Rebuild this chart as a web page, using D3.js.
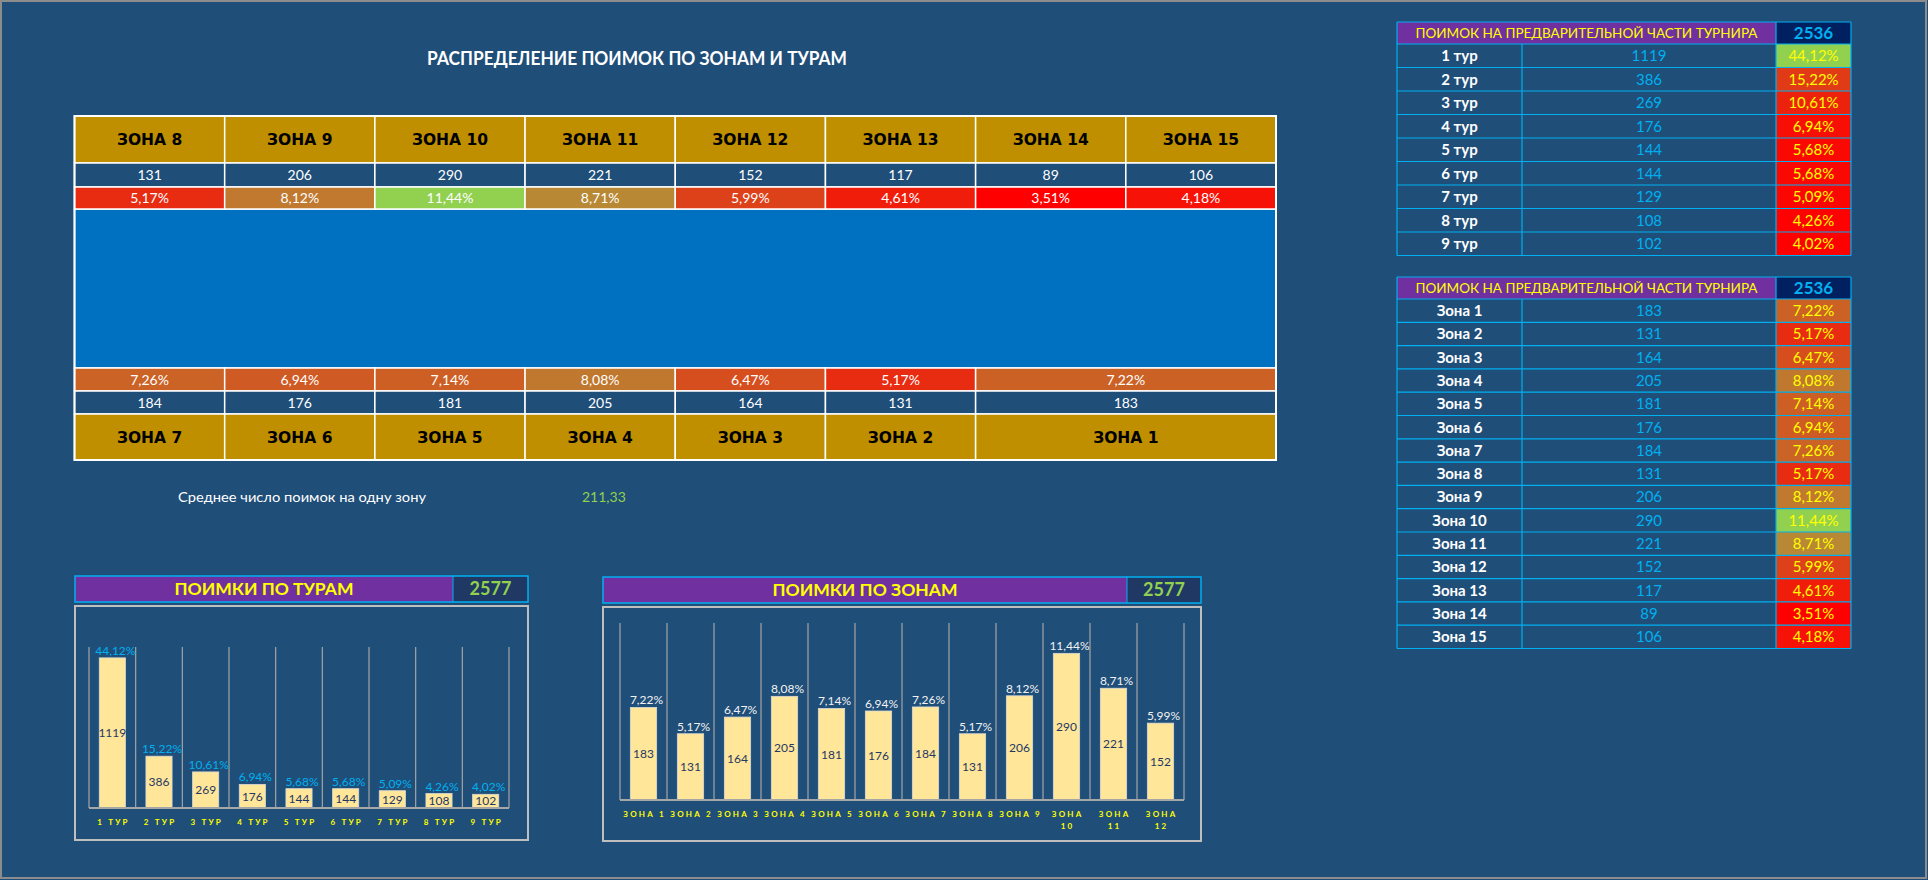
<!DOCTYPE html>
<html>
<head>
<meta charset="utf-8">
<script src="https://cdn.jsdelivr.net/npm/d3@7"></script>
<style>
  html, body { margin: 0; padding: 0; background: #1F4E79; }
  svg { display: block; }
  text { font-family: Lato, "Open Sans", sans-serif; }
</style>
</head>
<body>
<div id="sheet"></div>
<script>
// ---- data ----
const zoneNames = ['Зона 1','Зона 2','Зона 3','Зона 4','Зона 5','Зона 6','Зона 7','Зона 8',
                   'Зона 9','Зона 10','Зона 11','Зона 12','Зона 13','Зона 14','Зона 15'];
const zoneCatches = [183, 131, 164, 205, 181, 176, 184, 131, 206, 290, 221, 152, 117, 89, 106];
const zonePct = [7.22, 5.17, 6.47, 8.08, 7.14, 6.94, 7.26, 5.17, 8.12, 11.44, 8.71, 5.99, 4.61, 3.51, 4.18];

const tourNames = ['1 тур','2 тур','3 тур','4 тур','5 тур','6 тур','7 тур','8 тур','9 тур'];
const tourCatches = [1119, 386, 269, 176, 144, 144, 129, 108, 102];
const tourPct = [44.12, 15.22, 10.61, 6.94, 5.68, 5.68, 5.09, 4.26, 4.02];

// layout of the pond map: upper row zones 8..15, lower row 7..1 (zone 1 is wider)
const upperZones = [8, 9, 10, 11, 12, 13, 14, 15];
const lowerZones = [7, 6, 5, 4, 3, 2, 1];
const lowerSpans = [1, 1, 1, 1, 1, 1, 2];

const prelimTotal = 2536;
const chartTotal = 2577;
const avgPerZone = '211,33';
const chartZones = 12;   // the zone chart shows zones 1..12

const W = 1928, H = 880;
const fmtPct = v => d3.format('.2f')(v).replace('.', ',') + '%';

const zoneColor = d3.scaleLinear()
    .domain(d3.extent(zonePct))
    .range(['#FF0000', '#92D050']);
const tourColor = d3.scaleLinear()
    .domain(d3.extent(tourPct))
    .range(['#FF0000', '#92D050']);

const svg = d3.select('#sheet').append('svg')
    .attr('width', W)
    .attr('height', H);

svg.append('rect')
    .attr('x', 1).attr('y', 1)
    .attr('width', W - 3).attr('height', H - 3)
    .attr('fill', '#1F4E79')
    .attr('stroke', '#8C8C8C')
    .attr('stroke-width', 2);

// title
svg.append('text')
    .attr('x', 637).attr('y', 65)
    .attr('text-anchor', 'middle')
    .attr('fill', '#FFFFFF')
    .attr('font-weight', 700)
    .attr('font-size', 18)
    .attr('textLength', 420)
    .attr('lengthAdjust', 'spacingAndGlyphs')
    .text('РАСПРЕДЕЛЕНИЕ ПОИМОК ПО ЗОНАМ И ТУРАМ');

// ---------- pond map table ----------
const mapX = d3.scaleLinear().domain([0, 8]).range([74.5, 1276]);
const rows = {
    head1: [116, 163], val1: [163, 187], pct1: [187, 209],
    blue: [209, 368],
    pct2: [368, 391], val2: [391, 414], head2: [414, 460]
};
const map = svg.append('g').attr('class', 'pond-map');

function cellRow(cells, key, fill, label, opts) {
    const [y0, y1] = rows[key];
    const g = map.append('g').attr('class', key);
    g.selectAll('rect').data(cells).enter().append('rect')
        .attr('x', d => mapX(d.c0))
        .attr('y', y0)
        .attr('width', d => mapX(d.c0 + d.span) - mapX(d.c0))
        .attr('height', y1 - y0)
        .attr('fill', fill)
        .attr('stroke', '#FFFFFF')
        .attr('stroke-width', 1.5);
    g.selectAll('text').data(cells).enter().append('text')
        .attr('x', d => (mapX(d.c0) + mapX(d.c0 + d.span)) / 2)
        .attr('y', (y0 + y1) / 2)
        .attr('dy', '0.36em')
        .attr('text-anchor', 'middle')
        .attr('fill', opts.color)
        .attr('font-size', opts.size)
        .attr('font-weight', opts.weight || 400)
        .style('font-family', opts.family || null)
        .text(label);
}

const upperCells = upperZones.map((z, i) => ({ zone: z, c0: i, span: 1 }));
let acc = 0;
const lowerCells = lowerZones.map((z, i) => {
    const c = { zone: z, c0: acc, span: lowerSpans[i] };
    acc += lowerSpans[i];
    return c;
});

map.append('rect')
    .attr('x', mapX(0)).attr('y', rows.blue[0])
    .attr('width', mapX(8) - mapX(0))
    .attr('height', rows.blue[1] - rows.blue[0])
    .attr('fill', '#0070C0')
    .attr('stroke', '#FFFFFF')
    .attr('stroke-width', 1.5);

const headOpts = { color: '#000000', size: 15.5, weight: 700, family: '"DejaVu Sans", sans-serif' };
cellRow(upperCells, 'head1', '#BF8F00', d => 'ЗОНА ' + d.zone, headOpts);
cellRow(upperCells, 'val1', '#1F4E79', d => zoneCatches[d.zone - 1], { color: '#FFFFFF', size: 14 });
cellRow(upperCells, 'pct1', d => zoneColor(zonePct[d.zone - 1]), d => fmtPct(zonePct[d.zone - 1]), { color: '#FFFFFF', size: 14 });
cellRow(lowerCells, 'pct2', d => zoneColor(zonePct[d.zone - 1]), d => fmtPct(zonePct[d.zone - 1]), { color: '#FFFFFF', size: 14 });
cellRow(lowerCells, 'val2', '#1F4E79', d => zoneCatches[d.zone - 1], { color: '#FFFFFF', size: 14 });
cellRow(lowerCells, 'head2', '#BF8F00', d => 'ЗОНА ' + d.zone, headOpts);

map.append('rect')
    .attr('x', mapX(0)).attr('y', rows.head1[0])
    .attr('width', mapX(8) - mapX(0))
    .attr('height', rows.head2[1] - rows.head1[0])
    .attr('fill', 'none')
    .attr('stroke', '#FFFFFF')
    .attr('stroke-width', 2);

svg.append('text')
    .attr('x', 178).attr('y', 502)
    .attr('fill', '#FFFFFF')
    .attr('font-size', 14)
    .attr('textLength', 248)
    .attr('lengthAdjust', 'spacingAndGlyphs')
    .text('Среднее число поимок на одну зону');
svg.append('text')
    .attr('x', 582).attr('y', 502)
    .attr('fill', '#92D050')
    .attr('font-size', 14)
    .text(avgPerZone);

// ---------- side tables ----------
function sideTable(top, names, values, pcts, colorScale, rowH) {
    const cols = [1397, 1522, 1776, 1851];
    const headH = 22;
    const g = svg.append('g').attr('transform', 'translate(0,' + top + ')');
    g.append('rect')
        .attr('x', cols[0]).attr('y', 0)
        .attr('width', cols[2] - cols[0]).attr('height', headH)
        .attr('fill', '#7030A0');
    g.append('rect')
        .attr('x', cols[2]).attr('y', 0)
        .attr('width', cols[3] - cols[2]).attr('height', headH)
        .attr('fill', '#002060');
    g.append('text')
        .attr('x', (cols[0] + cols[2]) / 2).attr('y', headH / 2)
        .attr('dy', '0.36em')
        .attr('text-anchor', 'middle')
        .attr('fill', '#FFFF00')
        .attr('font-size', 14)
        .attr('textLength', 342)
        .attr('lengthAdjust', 'spacingAndGlyphs')
        .text('ПОИМОК НА ПРЕДВАРИТЕЛЬНОЙ ЧАСТИ ТУРНИРА');
    g.append('text')
        .attr('x', (cols[2] + cols[3]) / 2).attr('y', headH / 2)
        .attr('dy', '0.36em')
        .attr('text-anchor', 'middle')
        .attr('fill', '#00B0F0')
        .attr('font-size', 17)
        .attr('font-weight', 700)
        .text(prelimTotal);

    const y = d3.scaleBand().domain(d3.range(names.length))
        .range([headH, headH + rowH * names.length]);
    const row = g.selectAll('g.row').data(names).enter().append('g')
        .attr('class', 'row')
        .attr('transform', (d, i) => 'translate(0,' + y(i) + ')');
    row.append('rect')
        .attr('x', cols[2]).attr('width', cols[3] - cols[2])
        .attr('height', y.bandwidth())
        .attr('fill', (d, i) => colorScale(pcts[i]));
    row.append('text')
        .attr('x', (cols[0] + cols[1]) / 2).attr('y', y.bandwidth() / 2).attr('dy', '0.36em')
        .attr('text-anchor', 'middle').attr('fill', '#FFFFFF')
        .attr('font-size', 15).attr('font-weight', 700)
        .text(d => d);
    row.append('text')
        .attr('x', (cols[1] + cols[2]) / 2).attr('y', y.bandwidth() / 2).attr('dy', '0.36em')
        .attr('text-anchor', 'middle').attr('fill', '#00B0F0')
        .attr('font-size', 15)
        .text((d, i) => values[i]);
    row.append('text')
        .attr('x', (cols[2] + cols[3]) / 2).attr('y', y.bandwidth() / 2).attr('dy', '0.36em')
        .attr('text-anchor', 'middle').attr('fill', '#FFFF00')
        .attr('font-size', 15)
        .text((d, i) => fmtPct(pcts[i]));

    // cyan grid
    const bottom = headH + rowH * names.length;
    const hLines = [0, headH].concat(d3.range(1, names.length + 1).map(i => headH + i * rowH));
    g.selectAll('line.h').data(hLines).enter().append('line')
        .attr('x1', cols[0]).attr('x2', cols[3])
        .attr('y1', d => d).attr('y2', d => d)
        .attr('stroke', '#00B0F0').attr('stroke-width', 1.2);
    g.selectAll('line.v').data(cols).enter().append('line')
        .attr('x1', d => d).attr('x2', d => d)
        .attr('y1', (d, i) => (i === 1 ? headH : 0)).attr('y2', bottom)
        .attr('stroke', '#00B0F0').attr('stroke-width', 1.2);
}

sideTable(22, tourNames, tourCatches, tourPct, tourColor, 23.5);
sideTable(277, zoneNames, zoneCatches, zonePct, zoneColor, 23.3);

// ---------- bar charts ----------
function barChart(o) {
    const g = svg.append('g');
    // header bar
    g.append('rect')
        .attr('x', o.box[0]).attr('y', o.head[0])
        .attr('width', o.split - o.box[0]).attr('height', o.head[1] - o.head[0])
        .attr('fill', '#7030A0');
    g.append('rect')
        .attr('x', o.split).attr('y', o.head[0])
        .attr('width', o.box[1] - o.split).attr('height', o.head[1] - o.head[0])
        .attr('fill', '#1F3864');
    g.append('rect')
        .attr('x', o.box[0]).attr('y', o.head[0])
        .attr('width', o.box[1] - o.box[0]).attr('height', o.head[1] - o.head[0])
        .attr('fill', 'none').attr('stroke', '#00B0F0').attr('stroke-width', 1.5);
    g.append('line')
        .attr('x1', o.split).attr('x2', o.split)
        .attr('y1', o.head[0]).attr('y2', o.head[1])
        .attr('stroke', '#00B0F0').attr('stroke-width', 1);
    g.append('text')
        .attr('x', (o.box[0] + o.split) / 2).attr('y', (o.head[0] + o.head[1]) / 2).attr('dy', '0.36em')
        .attr('text-anchor', 'middle').attr('fill', '#FFFF00')
        .attr('font-size', 17.5).attr('font-weight', 700)
        .text(o.title);
    g.append('text')
        .attr('x', (o.split + o.box[1]) / 2).attr('y', (o.head[0] + o.head[1]) / 2).attr('dy', '0.36em')
        .attr('text-anchor', 'middle').attr('fill', '#92D050')
        .attr('font-size', 18).attr('font-weight', 700)
        .text(chartTotal);
    // chart frame
    g.append('rect')
        .attr('x', o.box[0]).attr('y', o.frame[0])
        .attr('width', o.box[1] - o.box[0]).attr('height', o.frame[1] - o.frame[0])
        .attr('fill', 'none').attr('stroke', '#BFBFBF').attr('stroke-width', 2);

    const x = d3.scaleBand().domain(o.names).range(o.xr).padding(0);
    const y = d3.scaleLinear().domain([0, o.max]).range(o.yr);

    // vertical category separators
    const seps = o.names.map(n => x(n)).concat([o.xr[1]]);
    g.selectAll('line.sep').data(seps).enter().append('line')
        .attr('x1', d => d).attr('x2', d => d)
        .attr('y1', o.yr[1]).attr('y2', o.yr[0])
        .attr('stroke', '#A6A6A6').attr('stroke-width', 1.2);

    const bw = x.bandwidth() * 0.56;
    g.selectAll('rect.bar').data(o.values).enter().append('rect')
        .attr('class', 'bar')
        .attr('x', (d, i) => x(o.names[i]) + (x.bandwidth() - bw) / 2)
        .attr('y', d => y(d))
        .attr('width', bw)
        .attr('height', d => y(0) - y(d))
        .attr('fill', '#FFE699')
        .attr('stroke', '#D9D9D9').attr('stroke-width', 0.8);

    g.append('line')
        .attr('x1', o.xr[0]).attr('x2', o.xr[1])
        .attr('y1', y(0)).attr('y2', y(0))
        .attr('stroke', '#A6A6A6').attr('stroke-width', 2);

    g.selectAll('text.val').data(o.values).enter().append('text')
        .attr('x', (d, i) => x(o.names[i]) + x.bandwidth() / 2)
        .attr('y', d => (y(d) + y(0)) / 2).attr('dy', '0.36em')
        .attr('text-anchor', 'middle').attr('fill', '#1F3864')
        .attr('font-size', 12)
        .text(d => d);

    g.selectAll('text.pct').data(o.pcts).enter().append('text')
        .attr('x', (d, i) => x(o.names[i]) + x.bandwidth() / 2 + 3)
        .attr('y', (d, i) => y(o.values[i]) - 3)
        .attr('text-anchor', 'middle').attr('fill', o.pctColor)
        .attr('font-size', 12)
        .text(d => fmtPct(d));

    // category labels, spaced caps, long names wrap to two lines
    const spacing = 2.2;
    const cx = d => x(d) + x.bandwidth() / 2 + spacing / 2;
    const lab = g.selectAll('text.cat').data(o.names).enter().append('text')
        .attr('x', cx)
        .attr('y', o.labelY)
        .attr('text-anchor', 'middle').attr('fill', '#FFFF00')
        .attr('font-size', 8).attr('font-weight', 700)
        .attr('letter-spacing', spacing);
    lab.each(function (d) {
        const t = d3.select(this);
        const parts = d.toUpperCase().split(' ');
        if (d.length > 6 && o.wrap) {
            parts.forEach((p, k) => {
                t.append('tspan')
                    .attr('x', cx(d))
                    .attr('dy', k === 0 ? 0 : 12)
                    .text(p);
            });
        } else {
            t.text(parts.join(' '));
        }
    });
}

barChart({
    title: 'ПОИМКИ ПО ТУРАМ',
    names: tourNames, values: tourCatches, pcts: tourPct,
    box: [75, 528], split: 453, head: [576, 602], frame: [606, 840],
    xr: [89, 509], yr: [808, 647], max: 1200,
    pctColor: '#00B0F0', labelY: 825, wrap: false
});

barChart({
    title: 'ПОИМКИ ПО ЗОНАМ',
    names: zoneNames.slice(0, chartZones),
    values: zoneCatches.slice(0, chartZones),
    pcts: zonePct.slice(0, chartZones),
    box: [603, 1201], split: 1127, head: [577, 603], frame: [607, 841],
    xr: [620, 1184], yr: [800, 623], max: 350,
    pctColor: '#F2F2F2', labelY: 817, wrap: true
});
</script>
</body>
</html>
